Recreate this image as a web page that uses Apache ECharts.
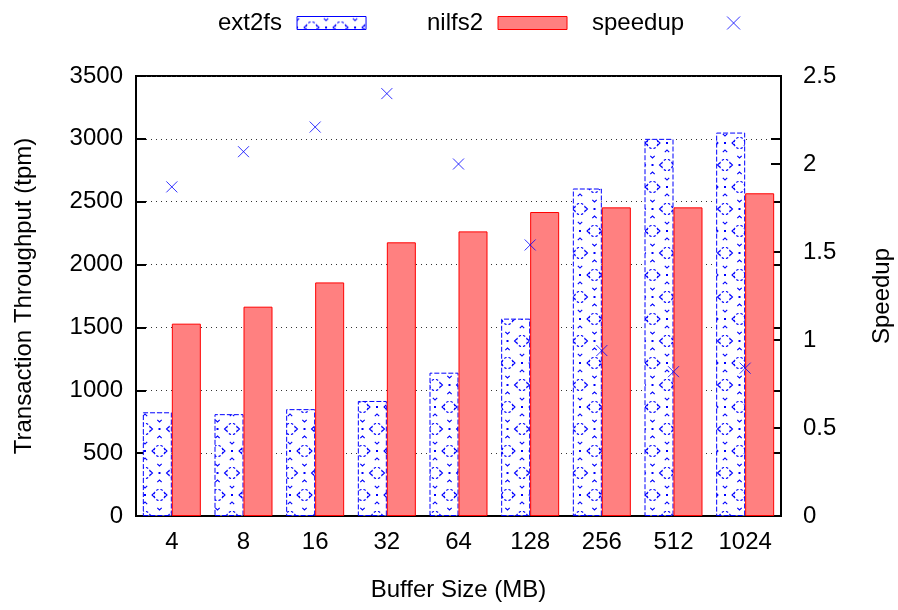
<!DOCTYPE html>
<html>
<head>
<meta charset="utf-8">
<script src="https://cdn.jsdelivr.net/npm/echarts@6/dist/echarts.min.js"></script>
<style>
  html, body { margin: 0; padding: 0; background: #fff; }
  #chart { width: 898px; height: 610px; }
</style>
</head>
<body>
<div id="chart"></div>
<script>
// Buffer sizes (MB) on the category axis
const bufferSizes = ['4', '8', '16', '32', '64', '128', '256', '512', '1024'];
// Transaction throughput (tpm)
const ext2fs = [825, 810, 850, 915, 1140, 1570, 2605, 3000, 3050];
const nilfs2 = [1530, 1665, 1858, 2177, 2264, 2418, 2455, 2455, 2567];
// nilfs2 / ext2fs speedup
const speedup = [1.87, 2.07, 2.21, 2.40, 2.00, 1.54, 0.94, 0.82, 0.84];

// Axis ranges
const throughputMin = 0, throughputMax = 3500, throughputStep = 500;
const speedupMin = 0, speedupMax = 2.5, speedupStep = 0.5;

const FONT = '"Liberation Sans", Arial, sans-serif';
const BLUE = '#0000ff';

// Fill pattern for the ext2fs bars: lattice of dashed rings and dotted stars
function makeHatch() {
  const W = 29, H = 44;
  const c = document.createElement('canvas');
  c.width = W; c.height = H;
  const g = c.getContext('2d');
  g.fillStyle = '#fff';
  g.fillRect(0, 0, W, H);
  g.strokeStyle = BLUE;
  g.fillStyle = BLUE;
  g.lineWidth = 1.1;
  const ring = (cx, cy) => {
    for (let k = 0; k < 8; k++) {
      const a = k * Math.PI / 4 + Math.PI / 8;
      g.beginPath();
      g.arc(cx, cy, 5.5, a - 0.22, a + 0.22);
      g.stroke();
    }
  };
  const star = (cx, cy) => {
    g.fillRect(cx - 1, cy - 1, 2, 2);
    const d = 7, s = 2.2;
    g.beginPath();
    // chevrons pointing to the centre dot
    g.moveTo(cx - s, cy - d - s); g.lineTo(cx, cy - d); g.lineTo(cx + s, cy - d - s);
    g.moveTo(cx - s, cy + d + s); g.lineTo(cx, cy + d); g.lineTo(cx + s, cy + d + s);
    g.moveTo(cx - d - s, cy - s); g.lineTo(cx - d, cy); g.lineTo(cx - d - s, cy + s);
    g.moveTo(cx + d + s, cy - s); g.lineTo(cx + d, cy); g.lineTo(cx + d + s, cy + s);
    g.stroke();
  };
  for (const dx of [-W, 0, W]) {
    for (const dy of [-H, 0, H]) {
      ring(14.5 + dx, 11 + dy);
      ring(0 + dx, 33 + dy);
      star(14.5 + dx, 33 + dy);
      star(0 + dx, 11 + dy);
    }
  }
  return c;
}

const hatch = makeHatch();
const chart = echarts.init(document.getElementById('chart'), null, { renderer: 'canvas' });

const legendText = { fontSize: 24, fontFamily: FONT, color: '#000', padding: [0, 10, 0, 0] };
const makeLegend = (name, left) => ({
  data: [{ name: name, icon: name === 'speedup' ? undefined : 'rect' }],
  left: left,
  top: 6,
  align: 'right',
  itemWidth: 69,
  itemHeight: 13,
  selectedMode: false,
  textStyle: legendText,
  itemStyle: { borderWidth: 1 }
});

const tickLabel = { fontSize: 24, fontFamily: FONT, color: '#000' };
const plainNumber = v => String(v);
const tickStyle = { show: true, inside: true, length: 10, lineStyle: { color: '#000', width: 2 } };

chart.setOption({
  animation: false,
  backgroundColor: '#fff',
  grid: {
    left: 136, right: 117, top: 76, bottom: 94,
    containLabel: false,
    outerBoundsMode: 'none',
    show: true, borderColor: '#000', borderWidth: 2, backgroundColor: 'transparent'
  },
  legend: [
    makeLegend('ext2fs', 213),
    makeLegend('nilfs2', 422),
    makeLegend('speedup', 587)
  ],
  xAxis: {
    type: 'category',
    data: bufferSizes,
    name: 'Buffer Size (MB)',
    nameLocation: 'middle',
    nameGap: 62,
    nameTextStyle: { fontSize: 24, fontFamily: FONT, color: '#000' },
    axisLine: { show: true, lineStyle: { color: '#000', width: 2 } },
    axisTick: { show: false },
    axisLabel: Object.assign({ margin: 14 }, tickLabel),
    splitLine: { show: false }
  },
  yAxis: [
    {
      type: 'value',
      position: 'left',
      min: throughputMin, max: throughputMax, interval: throughputStep,
      name: 'Transaction Throughput (tpm)',
      nameLocation: 'middle',
      nameRotate: 90,
      nameGap: 100,
      nameTextStyle: { fontSize: 24, fontFamily: FONT, color: '#000' },
      axisLine: { show: true, lineStyle: { color: '#000', width: 2 } },
      axisTick: tickStyle,
      axisLabel: Object.assign({ margin: 13, formatter: plainNumber }, tickLabel),
      splitLine: { show: true, lineStyle: { color: '#333', type: [1, 4], width: 1 } }
    },
    {
      type: 'value',
      position: 'right',
      min: speedupMin, max: speedupMax, interval: speedupStep,
      name: 'Speedup',
      nameLocation: 'middle',
      nameRotate: 90,
      nameGap: 89,
      nameTextStyle: { fontSize: 24, fontFamily: FONT, color: '#000' },
      axisLine: { show: true, lineStyle: { color: '#000', width: 2 } },
      axisTick: tickStyle,
      axisLabel: Object.assign({ margin: 22, formatter: plainNumber }, tickLabel),
      splitLine: { show: false }
    },
    {
      // throughput ticks mirrored on the right border
      type: 'value',
      position: 'right',
      offset: 0,
      min: throughputMin, max: throughputMax, interval: throughputStep,
      axisLine: { show: false },
      axisTick: tickStyle,
      axisLabel: { show: false },
      splitLine: { show: false }
    }
  ],
  series: [
    {
      name: 'ext2fs',
      type: 'bar',
      yAxisIndex: 0,
      data: ext2fs,
      barWidth: 29,
      barGap: '0%',
      itemStyle: {
        color: { image: hatch, repeat: 'repeat' },
        borderColor: BLUE,
        borderWidth: 1,
        borderType: [5, 2]
      }
    },
    {
      name: 'nilfs2',
      type: 'bar',
      yAxisIndex: 0,
      data: nilfs2,
      barWidth: 29,
      barGap: '0%',
      itemStyle: { color: '#ff8080', borderColor: '#ff0000', borderWidth: 1 }
    },
    {
      name: 'speedup',
      type: 'scatter',
      yAxisIndex: 1,
      data: speedup,
      symbol: 'path://M0,0L10,10M10,0L0,10',
      symbolSize: 11,
      itemStyle: { color: 'none', borderColor: BLUE, borderWidth: 1 },
      z: 5
    }
  ]
});
</script>
</body>
</html>
